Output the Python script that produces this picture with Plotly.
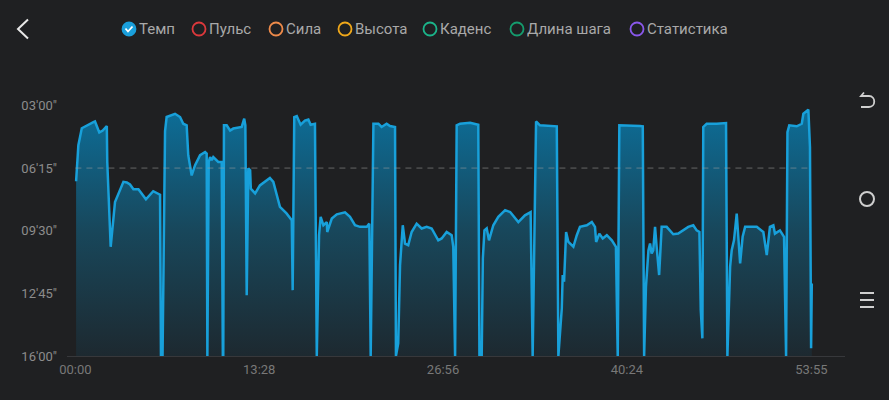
import plotly.graph_objects as go

# темп по времени тренировки: время (с) и темп (с/км)
elapsed_s = [
    3, 13, 28, 50, 79, 86, 105, 120, 138, 140, 155, 174, 211, 226, 240, 255, 277, 310, 342, 372, 376,
    383, 394, 401, 438, 460, 474, 489, 496, 511, 526, 548, 570, 577, 580, 586, 592, 599, 606, 628, 643,
    648, 650, 653, 665, 680, 694, 731, 742, 747, 753, 760, 768, 771, 790, 811, 855, 870, 899, 928, 951,
    955, 962, 973, 990, 1009, 1024, 1034, 1053, 1061, 1071, 1078, 1090, 1105, 1107, 1127, 1149, 1185,
    1207, 1229, 1251, 1281, 1292, 1298, 1310, 1332, 1346, 1368, 1383, 1405, 1409, 1419, 1427, 1439,
    1449, 1463, 1478, 1500, 1522, 1544, 1566, 1595, 1610, 1632, 1654, 1661, 1669, 1676, 1691, 1735,
    1771, 1776, 1786, 1791, 1798, 1808, 1818, 1837, 1859, 1889, 1911, 1947, 1976, 2001, 2010, 2025,
    2042, 2116, 2123, 2138, 2142, 2148, 2157, 2167, 2189, 2204, 2218, 2248, 2270, 2284, 2289, 2303,
    2318, 2336, 2358, 2376, 2384, 2391, 2424, 2482, 2494, 2500, 2508, 2519, 2526, 2533, 2540, 2548,
    2555, 2566, 2577, 2599, 2628, 2650, 2694, 2716, 2731, 2743, 2749, 2756, 2760, 2775, 2819, 2860,
    2866, 2878, 2885, 2895, 2907, 2922, 2933, 2944, 2973, 2995, 3024, 3039, 3053, 3068, 3075, 3097,
    3115, 3124, 3130, 3138, 3171, 3193, 3200, 3222, 3229, 3234, 3237,
]
pace_s = [
    416, 304, 251, 242, 232, 230, 264, 258, 244, 356, 620, 481, 418, 420, 426, 441, 441, 472, 447, 458, 960,
    960, 260, 216, 206, 216, 237, 242, 335, 398, 366, 335, 325, 330, 960, 356, 341, 350, 341, 356, 356,
    960, 960, 242, 242, 258, 252, 247, 221, 242, 771, 376, 382, 439, 454, 429, 406, 418, 496, 516, 537,
    755, 216, 213, 240, 227, 224, 240, 237, 960, 584, 527, 553, 543, 574, 532, 519, 513,
    527, 553, 558, 558, 548, 960, 237, 237, 247, 237, 244, 247, 960, 921, 677, 553,
    610, 615, 574, 548, 563, 558, 563, 600, 594, 574, 584, 620, 960, 242, 237, 234,
    240, 960, 960, 656, 569, 563, 600, 553, 527, 506, 512, 543, 522, 512, 960, 230,
    242, 245, 960, 812, 708, 729, 574, 605, 620, 584, 558, 553, 543, 558, 605, 579,
    594, 584, 600, 620, 960, 242, 242, 244, 245, 960, 745, 631, 610, 641, 631, 558,
    620, 708, 558, 558, 581, 579, 558, 553, 569, 574, 817, 905, 247, 237, 237, 235,
    960, 682, 631, 600, 517, 672, 589, 558, 558, 558, 574, 646, 558, 553, 579, 569,
    589, 960, 263, 242, 245, 237, 206, 193, 310, 936, 734,
]
avg_pace = 375
slowest_pace = 960

x_ticks = [0, 808, 1616, 2424, 3235]
x_labels = ["00:00", "13:28", "26:56", "40:24", "53:55"]
y_ticks = [180, 375, 570, 765, 960]
y_labels = ["03'00\"", "06'15\"", "09'30\"", "12'45\"", "16'00\""]

legend_names = ["Темп", "Пульс", "Сила", "Высота", "Каденс", "Длина шага", "Статистика"]
legend_colors = ["#1a9fdb", "#dc383c", "#ee8a4a", "#f0a81a", "#1bb48a", "#159c6e", "#8a58ec"]
legend_px = [129, 199, 276, 345, 430, 517, 637]

W, H = 889, 400
ML, MR, MT, MB = 67, 44, 99, 44
BG = "#1f2022"
LINE = "#18a0da"


def px_x(px):
    # пиксель окна -> доля области графика
    return (px - ML) / (W - ML - MR)


def px_y(py):
    return (H - MB - py) / (H - MT - MB)


fig = go.Figure()

# базовая линия для заливки вниз (ось перевёрнута)
fig.add_trace(go.Scatter(
    x=elapsed_s, y=[slowest_pace] * len(elapsed_s), mode="lines",
    line=dict(width=0, color=BG), hoverinfo="skip", showlegend=False
))
fig.add_trace(go.Scatter(
    x=elapsed_s, y=pace_s, mode="lines", name="Темп",
    line=dict(color=LINE, width=2.5),
    fill="tonexty",
    fillgradient=dict(type="vertical", start=180, stop=960,
                      colorscale=[[0, "#0c6f9a"], [0.5, "#18475b"], [1, "#1d2930"]]),
    showlegend=False
))
# средний темп
fig.add_trace(go.Scatter(
    x=[0, elapsed_s[-1]], y=[avg_pace, avg_pace], mode="lines",
    line=dict(color="rgba(160,160,160,0.55)", width=1, dash="6px,5px"),
    hoverinfo="skip", showlegend=False
))

shapes = []
annotations = []

# легенда сверху
for i, (name, color, cx) in enumerate(zip(legend_names, legend_colors, legend_px)):
    shapes.append(dict(
        type="circle", xref="paper", yref="paper", xsizemode="pixel", ysizemode="pixel",
        xanchor=px_x(cx), yanchor=px_y(29), x0=-6.5, x1=6.5, y0=-6.5, y1=6.5,
        line=dict(color=color, width=1.8), fillcolor=color if i == 0 else "rgba(0,0,0,0)"
    ))
    annotations.append(dict(
        text=name, xref="paper", yref="paper", x=px_x(cx + 8), y=px_y(29),
        xanchor="left", yanchor="middle", showarrow=False,
        font=dict(size=15, color="#a9a9a9", family="Roboto")
    ))
# галочка в активном пункте
shapes.append(dict(
    type="path", xref="paper", yref="paper", xsizemode="pixel", ysizemode="pixel",
    xanchor=px_x(legend_px[0]), yanchor=px_y(29),
    path="M -3.5,0.5 L -1,-2.5 L 3.5,2.5", line=dict(color="white", width=1.8)
))

# кнопка назад
shapes.append(dict(
    type="path", xref="paper", yref="paper", xsizemode="pixel", ysizemode="pixel",
    xanchor=px_x(23), yanchor=px_y(29),
    path="M 5,9.5 L -5,0 L 5,-9.5", line=dict(color="#e8e8e8", width=2)
))

# иконки справа
icon = "#cfcfcf"
shapes.append(dict(
    type="path", xref="paper", yref="paper", xsizemode="pixel", ysizemode="pixel",
    xanchor=px_x(867), yanchor=px_y(100),
    path="M -3,7.5 L -6,4 L 2,4 C 9,4 9,-7 2,-7 L -6,-7", line=dict(color=icon, width=1.8)
))
shapes.append(dict(
    type="circle", xref="paper", yref="paper", xsizemode="pixel", ysizemode="pixel",
    xanchor=px_x(867), yanchor=px_y(199), x0=-7, x1=7, y0=-7, y1=7,
    line=dict(color=icon, width=2)
))
for dy in (-7, 0, 7):
    shapes.append(dict(
        type="line", xref="paper", yref="paper", xsizemode="pixel", ysizemode="pixel",
        xanchor=px_x(867), yanchor=px_y(300 + dy), x0=-7, x1=7, y0=0, y1=0,
        line=dict(color=icon, width=2)
    ))

fig.update_layout(
    width=W, height=H, margin=dict(l=ML, r=MR, t=MT, b=MB),
    paper_bgcolor=BG, plot_bgcolor=BG, showlegend=False,
    font=dict(family="Roboto, sans-serif", color="#8c8c8c"),
    shapes=shapes, annotations=annotations,
)
fig.update_xaxes(
    range=[-37, 3383], tickvals=x_ticks, ticktext=x_labels,
    showgrid=False, zeroline=False, showline=True, linecolor="#37383b", linewidth=1,
    ticks="", ticklabelstandoff=1, tickfont=dict(size=13, color="#787878")
)
fig.update_yaxes(
    range=[960, 160], tickvals=y_ticks, ticktext=y_labels,
    showgrid=False, zeroline=False, showline=False,
    ticks="", ticklabelstandoff=9, tickfont=dict(size=13, color="#8c8c8c")
)

# убрать белые поля страницы вокруг графика
page_css = ("document.body.style.margin='0';"
            "document.body.style.background='%s';"
            "document.body.style.overflow='hidden';" % BG)
fig.write_html("out.html", config={"displayModeBar": False}, post_script=page_css)
